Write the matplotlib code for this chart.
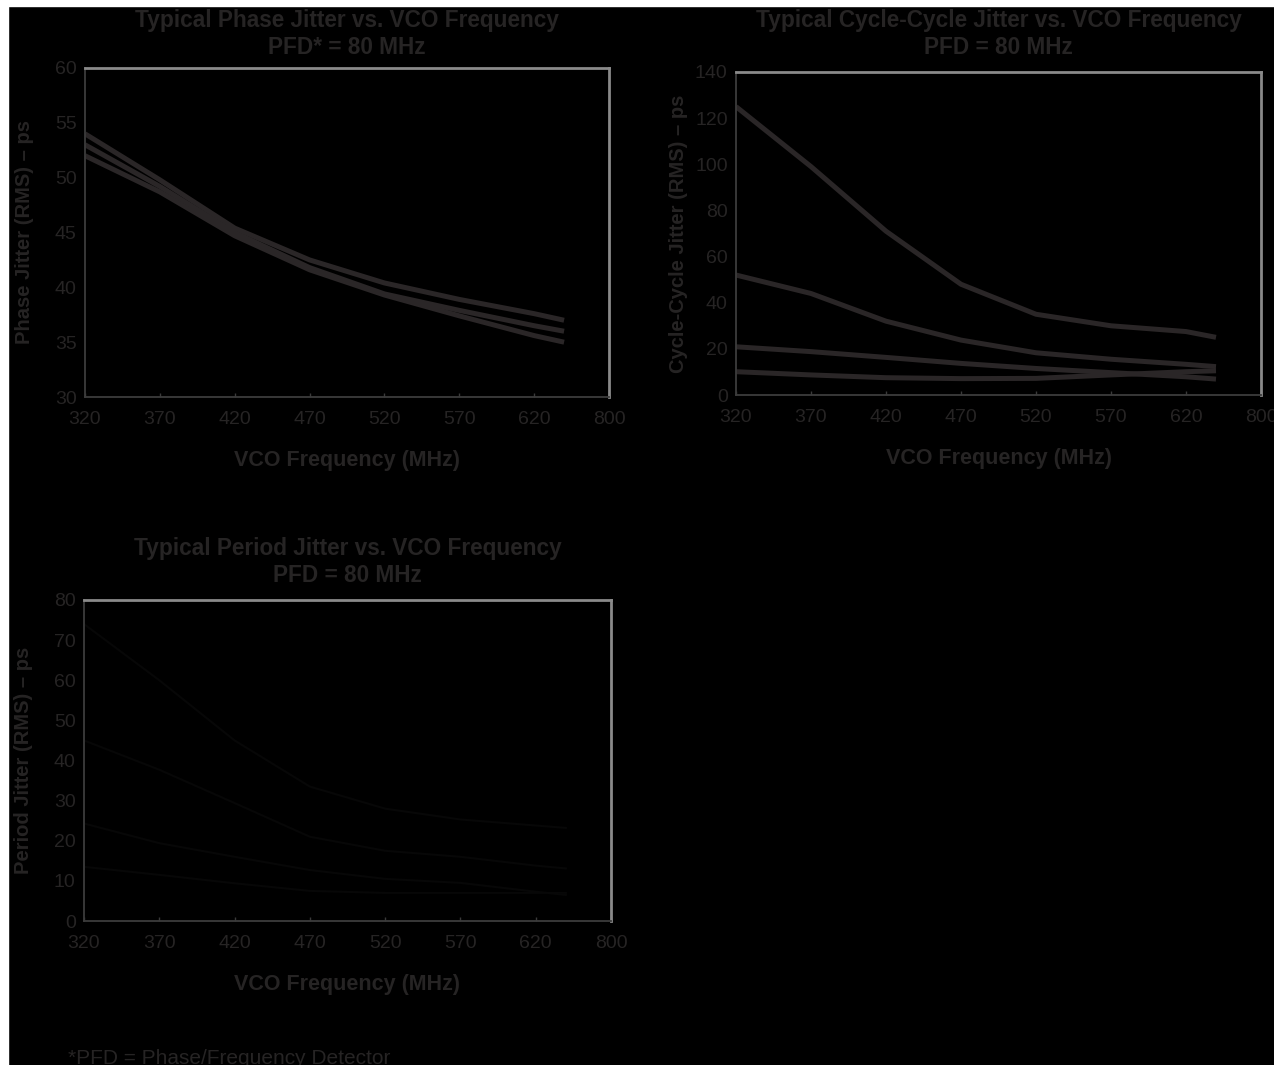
import matplotlib.pyplot as plt
from matplotlib.patches import Rectangle

plt.rcParams['font.family'] = ['Liberation Sans', 'DejaVu Sans']

TXT = "#262424"
LINE = "#2a2627"
DARK = "#070707"

# shared x values (MHz) and tick labels
freq = [320, 370, 420, 470, 520, 570, 620, 640]
tick_pos = [320, 370, 420, 470, 520, 570, 620, 670]
tick_labels = ["320", "370", "420", "470", "520", "570", "620", "800"]

# phase jitter (ps)
phase_a = [54.0, 49.8, 45.4, 42.5, 40.4, 38.9, 37.6, 37.0]
phase_b = [53.0, 49.2, 45.0, 41.8, 39.4, 37.9, 36.5, 36.0]
phase_c = [52.0, 48.7, 44.7, 41.6, 39.3, 37.4, 35.6, 35.0]

# cycle-cycle jitter (ps)
cc_a = [125.0, 99.0, 71.0, 48.0, 35.0, 30.0, 27.5, 25.0]
cc_b = [52.0, 44.0, 32.0, 23.8, 18.3, 15.5, 13.3, 12.3]
cc_c = [20.9, 18.8, 16.3, 13.7, 11.5, 9.7, 7.9, 6.9]
cc_d = [10.1, 8.7, 7.5, 7.1, 7.2, 8.7, 10.1, 10.5]

# period jitter (ps)
per_a = [74.0, 60.0, 45.0, 33.5, 28.0, 25.3, 23.8, 23.2]
per_b = [45.0, 37.7, 29.4, 21.0, 17.5, 16.0, 13.8, 13.1]
per_c = [24.3, 19.4, 16.0, 12.7, 10.5, 9.5, 7.3, 6.5]
per_d = [13.5, 11.5, 9.4, 7.5, 7.0, 7.0, 7.0, 7.0]

W, H = 1274, 1065
fig = plt.figure(figsize=(W / 100, H / 100), dpi=100, facecolor="black")


def make_axes(l, r, t, b):
    return fig.add_axes([l / W, 1 - b / H, (r - l) / W, (b - t) / H])


def style(ax, ylim, yticks, ylabel, title, title_y, ypad):
    ax.set_facecolor("black")
    ax.set_xlim(320, 670)
    ax.set_ylim(*ylim)
    ax.set_xticks(tick_pos)
    ax.set_xticklabels(tick_labels)
    ax.set_yticks(yticks)
    ax.tick_params(axis="x", direction="in", length=3, width=1, color="#3a3a3a",
                   labelsize=14, labelcolor=TXT, pad=10)
    ax.tick_params(axis="y", length=0, labelsize=14, labelcolor=TXT, pad=6)
    for s in ["top", "right"]:
        ax.spines[s].set_color("#8a8a8a")
        ax.spines[s].set_linewidth(2)
    for s in ["left", "bottom"]:
        ax.spines[s].set_color("#3c3c3c")
        ax.spines[s].set_linewidth(1.3)
    ax.set_ylabel(ylabel, fontsize=14.5, fontweight="bold", color=TXT, labelpad=ypad)
    ax.set_xlabel("VCO Frequency (MHz)", fontsize=15.5, fontweight="bold",
                  color=TXT, labelpad=16)
    # two-line title placed in figure pixels
    box = ax.get_position()
    cx = (box.x0 + box.x1) / 2
    for i, line in enumerate(title):
        fig.text(cx, 1 - (title_y + 27 * i) / H, line, fontsize=16.3,
                 fontweight="bold", color=TXT, ha="center", va="center")


ax1 = make_axes(85, 609, 68, 397)
for s in [phase_a, phase_b, phase_c]:
    ax1.plot(freq, s, color=LINE, lw=3.6, solid_capstyle="butt")
style(ax1, (30, 60), range(30, 61, 5), "Phase Jitter (RMS) – ps",
      ["Typical Phase Jitter vs. VCO Frequency", "PFD* = 80 MHz"], 20, 15)

ax2 = make_axes(736, 1261, 72, 395)
for s in [cc_a, cc_b, cc_c, cc_d]:
    ax2.plot(freq, s, color=LINE, lw=3.6, solid_capstyle="butt")
style(ax2, (0, 140), range(0, 141, 20), "Cycle-Cycle Jitter (RMS) – ps",
      ["Typical Cycle-Cycle Jitter vs. VCO Frequency", "PFD = 80 MHz"], 20, 5)

ax3 = make_axes(84, 611, 600, 921)
for s in [per_a, per_b, per_c, per_d]:
    ax3.plot(freq, s, color=DARK, lw=1.5)
style(ax3, (0, 80), range(0, 81, 10), "Period Jitter (RMS) – ps",
      ["Typical Period Jitter vs. VCO Frequency", "PFD = 80 MHz"], 548, 15)

fig.text(68 / W, 1 - 1058 / H, "*PFD = Phase/Frequency Detector", fontsize=15,
         color=TXT, va="center", ha="left")

# white strips along the top and left edges
fig.patches.append(Rectangle((0, 1 - 6 / H), 1, 6 / H, transform=fig.transFigure,
                             color="white", zorder=10))
fig.patches.append(Rectangle((0, 0), 8 / W, 1, transform=fig.transFigure,
                             color="white", zorder=10))

fig.savefig("out.png", dpi=100, facecolor="black")
